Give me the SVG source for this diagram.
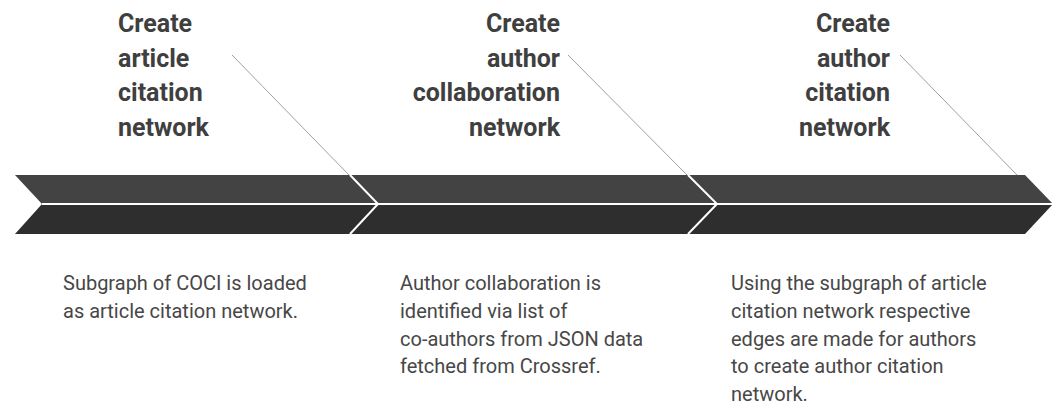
<svg xmlns="http://www.w3.org/2000/svg" width="1056" height="404" viewBox="0 0 1056 404">
<style>
.top{fill:#434343}
.bot{fill:#2e2e2e}
.sep{fill:none;stroke:#ffffff;stroke-width:2}
.lead{fill:none;stroke:#a0a0a0;stroke-width:1}
.title{font-family:Roboto,"Liberation Sans",sans-serif;font-weight:bold;font-size:25px;fill:#3f3f3f}
.desc{font-family:Roboto,"Liberation Sans",sans-serif;font-size:20px;fill:#474747}
</style>
<rect width="1056" height="404" fill="#ffffff"/>
<g id="step1">
<polygon class="top" points="15,175 350,175 378,204 42,204"/>
<polygon class="bot" points="42,204 378,204 350,234 15,234"/>
<text class="title" x="118"><tspan x="118" y="32">Create</tspan><tspan x="118" y="66.5">article</tspan><tspan x="118" y="101">citation</tspan><tspan x="118" y="135.5">network</tspan></text>
<text class="desc"><tspan x="63" y="290">Subgraph of COCI is loaded</tspan><tspan x="63" y="318">as article citation network.</tspan></text>
</g>
<g id="step2">
<polygon class="top" points="350,175 688,175 717,204 378,204"/>
<polygon class="bot" points="378,204 717,204 688,234 350,234"/>
<text class="title" text-anchor="end"><tspan x="560" y="32">Create</tspan><tspan x="560" y="66.5">author</tspan><tspan x="560" y="101">collaboration</tspan><tspan x="560" y="135.5">network</tspan></text>
<text class="desc"><tspan x="400" y="290">Author collaboration is</tspan><tspan x="400" y="318">identified via list of</tspan><tspan x="400" y="345.5">co-authors from JSON data</tspan><tspan x="400" y="373">fetched from Crossref.</tspan></text>
</g>
<g id="step3">
<polygon class="top" points="688,175 1025,175 1053,204 717,204"/>
<polygon class="bot" points="717,204 1053,204 1025,234 688,234"/>
<text class="title" text-anchor="end"><tspan x="890" y="32">Create</tspan><tspan x="890" y="66.5">author</tspan><tspan x="890" y="101">citation</tspan><tspan x="890" y="135.5">network</tspan></text>
<text class="desc"><tspan x="731" y="290">Using the subgraph of article</tspan><tspan x="731" y="318">citation network respective</tspan><tspan x="731" y="345.5">edges are made for authors</tspan><tspan x="731" y="373">to create author citation</tspan><tspan x="731" y="400.5">network.</tspan></text>
</g>
<g id="separators">
<line class="sep" x1="42" y1="204" x2="1053" y2="204"/>
<polyline class="sep" points="350,175 378,204 350,234"/>
<polyline class="sep" points="688,175 717,204 688,234"/>
</g>
<g id="connectors">
<line class="lead" x1="232" y1="55" x2="349" y2="175"/>
<line class="lead" x1="568" y1="55" x2="687" y2="175"/>
<line class="lead" x1="900" y1="55" x2="1017" y2="175"/>
</g>
</svg>
